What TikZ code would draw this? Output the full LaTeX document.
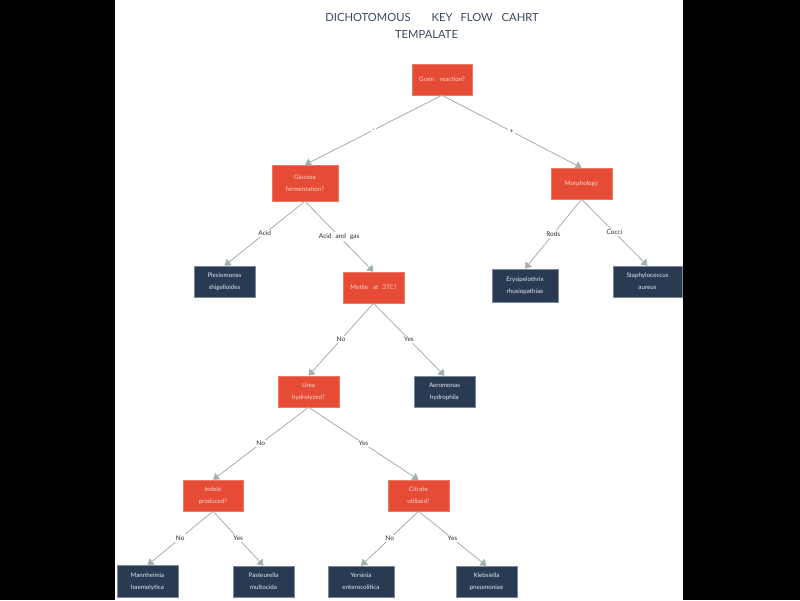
\documentclass[tikz,border=0pt]{standalone}
\usepackage{fontspec}
\setmainfont{Lato}
\usetikzlibrary{arrows.meta}
\definecolor{boxred}{HTML}{E64C35}
\definecolor{boxnavy}{HTML}{283B53}
\definecolor{edgegray}{HTML}{A3B0AE}
\definecolor{titlecol}{HTML}{3B4A5E}
\definecolor{redtext}{HTML}{F8D6CE}
\definecolor{navytext}{HTML}{E3E8EF}
\definecolor{labtext}{HTML}{2E2E2E}
\tikzset{
  qbox/.style={rectangle, fill=boxred, draw=boxred!75!white, line width=0.5pt,
    text=redtext, align=center, inner sep=1pt,
    font=\fontsize{6.2}{12}\selectfont, minimum width=61pt, minimum height=31pt},
  abox/.style={rectangle, fill=boxnavy, draw=boxnavy!60!white, line width=0.5pt,
    text=navytext, align=center, inner sep=1pt,
    font=\fontsize{6.2}{12}\selectfont, minimum width=61pt, minimum height=31pt},
  conn/.style={draw=edgegray, line width=0.8pt, -{Triangle[width=8pt,length=6pt]}},
  elab/.style={fill=white, text=labtext, inner sep=1.5pt, font=\fontsize{6.5}{8}\selectfont},
  ttl/.style={text=titlecol, font=\fontsize{11.2}{13}\selectfont, inner sep=0pt}
}
\begin{document}
\begin{tikzpicture}[x=1pt,y=-1pt]
\fill[black] (0,0) rectangle (800,600);
\fill[white] (115,0) rectangle (683,600);
\useasboundingbox (0,0) rectangle (800,600);

% title
\node[ttl] (t1) at (432,17) {DICHOTOMOUS\hspace{21pt}KEY\hspace{8pt}FLOW\hspace{9pt}CAHRT};
\node[ttl] (t2) at (426.5,34) {TEMPALATE};

% question boxes
\node[qbox, minimum width=60pt] (gram) at (442,79.5) {Gram\hspace{6pt}reaction?};
\node[qbox, minimum width=66pt, minimum height=36pt] (gluc) at (305,183) {Glucose\\fermentation?};
\node[qbox] (morph) at (581.5,183.5) {Morphology};
\node[qbox] (motile) at (373.5,287.5) {Motile\hspace{5pt}at\hspace{4pt}37C?};
\node[qbox] (urea) at (308.5,391.5) {Urea\\hydrolyzed?};
\node[qbox, minimum width=60pt] (indole) at (213,495.5) {Indole\\produced?};
\node[qbox] (citrate) at (418.5,495.5) {Citrate\\utilized?};

% answer boxes
\node[abox] (plesio) at (224.5,281.5) {Plesiomonas\\shigelloides};
\node[abox, minimum width=66pt, minimum height=33pt] (erysip) at (525,285.5) {Erysipelothrix\\rhusiopathiae};
\node[abox, minimum width=69pt] (staph) at (647.5,281.5) {Staphylococcus\\aureus};
\node[abox] (aero) at (444.5,391.5) {Aeromonas\\hydrophila};
\node[abox, minimum height=32pt] (mannh) at (147.5,581.5) {Mannheimia\\haemolytica};
\node[abox] (past) at (263.5,581.5) {Pasteurella\\multocida};
\node[abox, minimum width=66pt] (yers) at (361,581.5) {Yersinia\\enterocolitica};
\node[abox] (kleb) at (486.5,581.5) {Klebsiella\\pneumoniae};

% connectors
\draw[conn] (gram.south) -- node[elab] {-} (gluc.north);
\draw[conn] (gram.south) -- node[elab] {+} (morph.north);
\draw[conn] (gluc.south) -- node[elab] {Acid} (plesio.north);
\draw[conn] (gluc.south) -- node[elab] {Acid\hspace{4pt}and\hspace{4pt}gas} (motile.north);
\draw[conn] (morph.south) -- node[elab] {Rods} (erysip.north);
\draw[conn] (morph.south) -- node[elab] {Cocci} (staph.north);
\draw[conn] (motile.south) -- node[elab] {No} (urea.north);
\draw[conn] (motile.south) -- node[elab] {Yes} (aero.north);
\draw[conn] (urea.south) -- node[elab] {No} (indole.north);
\draw[conn] (urea.south) -- node[elab] {Yes} (citrate.north);
\draw[conn] (indole.south) -- node[elab] {No} (mannh.north);
\draw[conn] (indole.south) -- node[elab] {Yes} (past.north);
\draw[conn] (citrate.south) -- node[elab] {No} (yers.north);
\draw[conn] (citrate.south) -- node[elab] {Yes} (kleb.north);
\end{tikzpicture}
\end{document}
